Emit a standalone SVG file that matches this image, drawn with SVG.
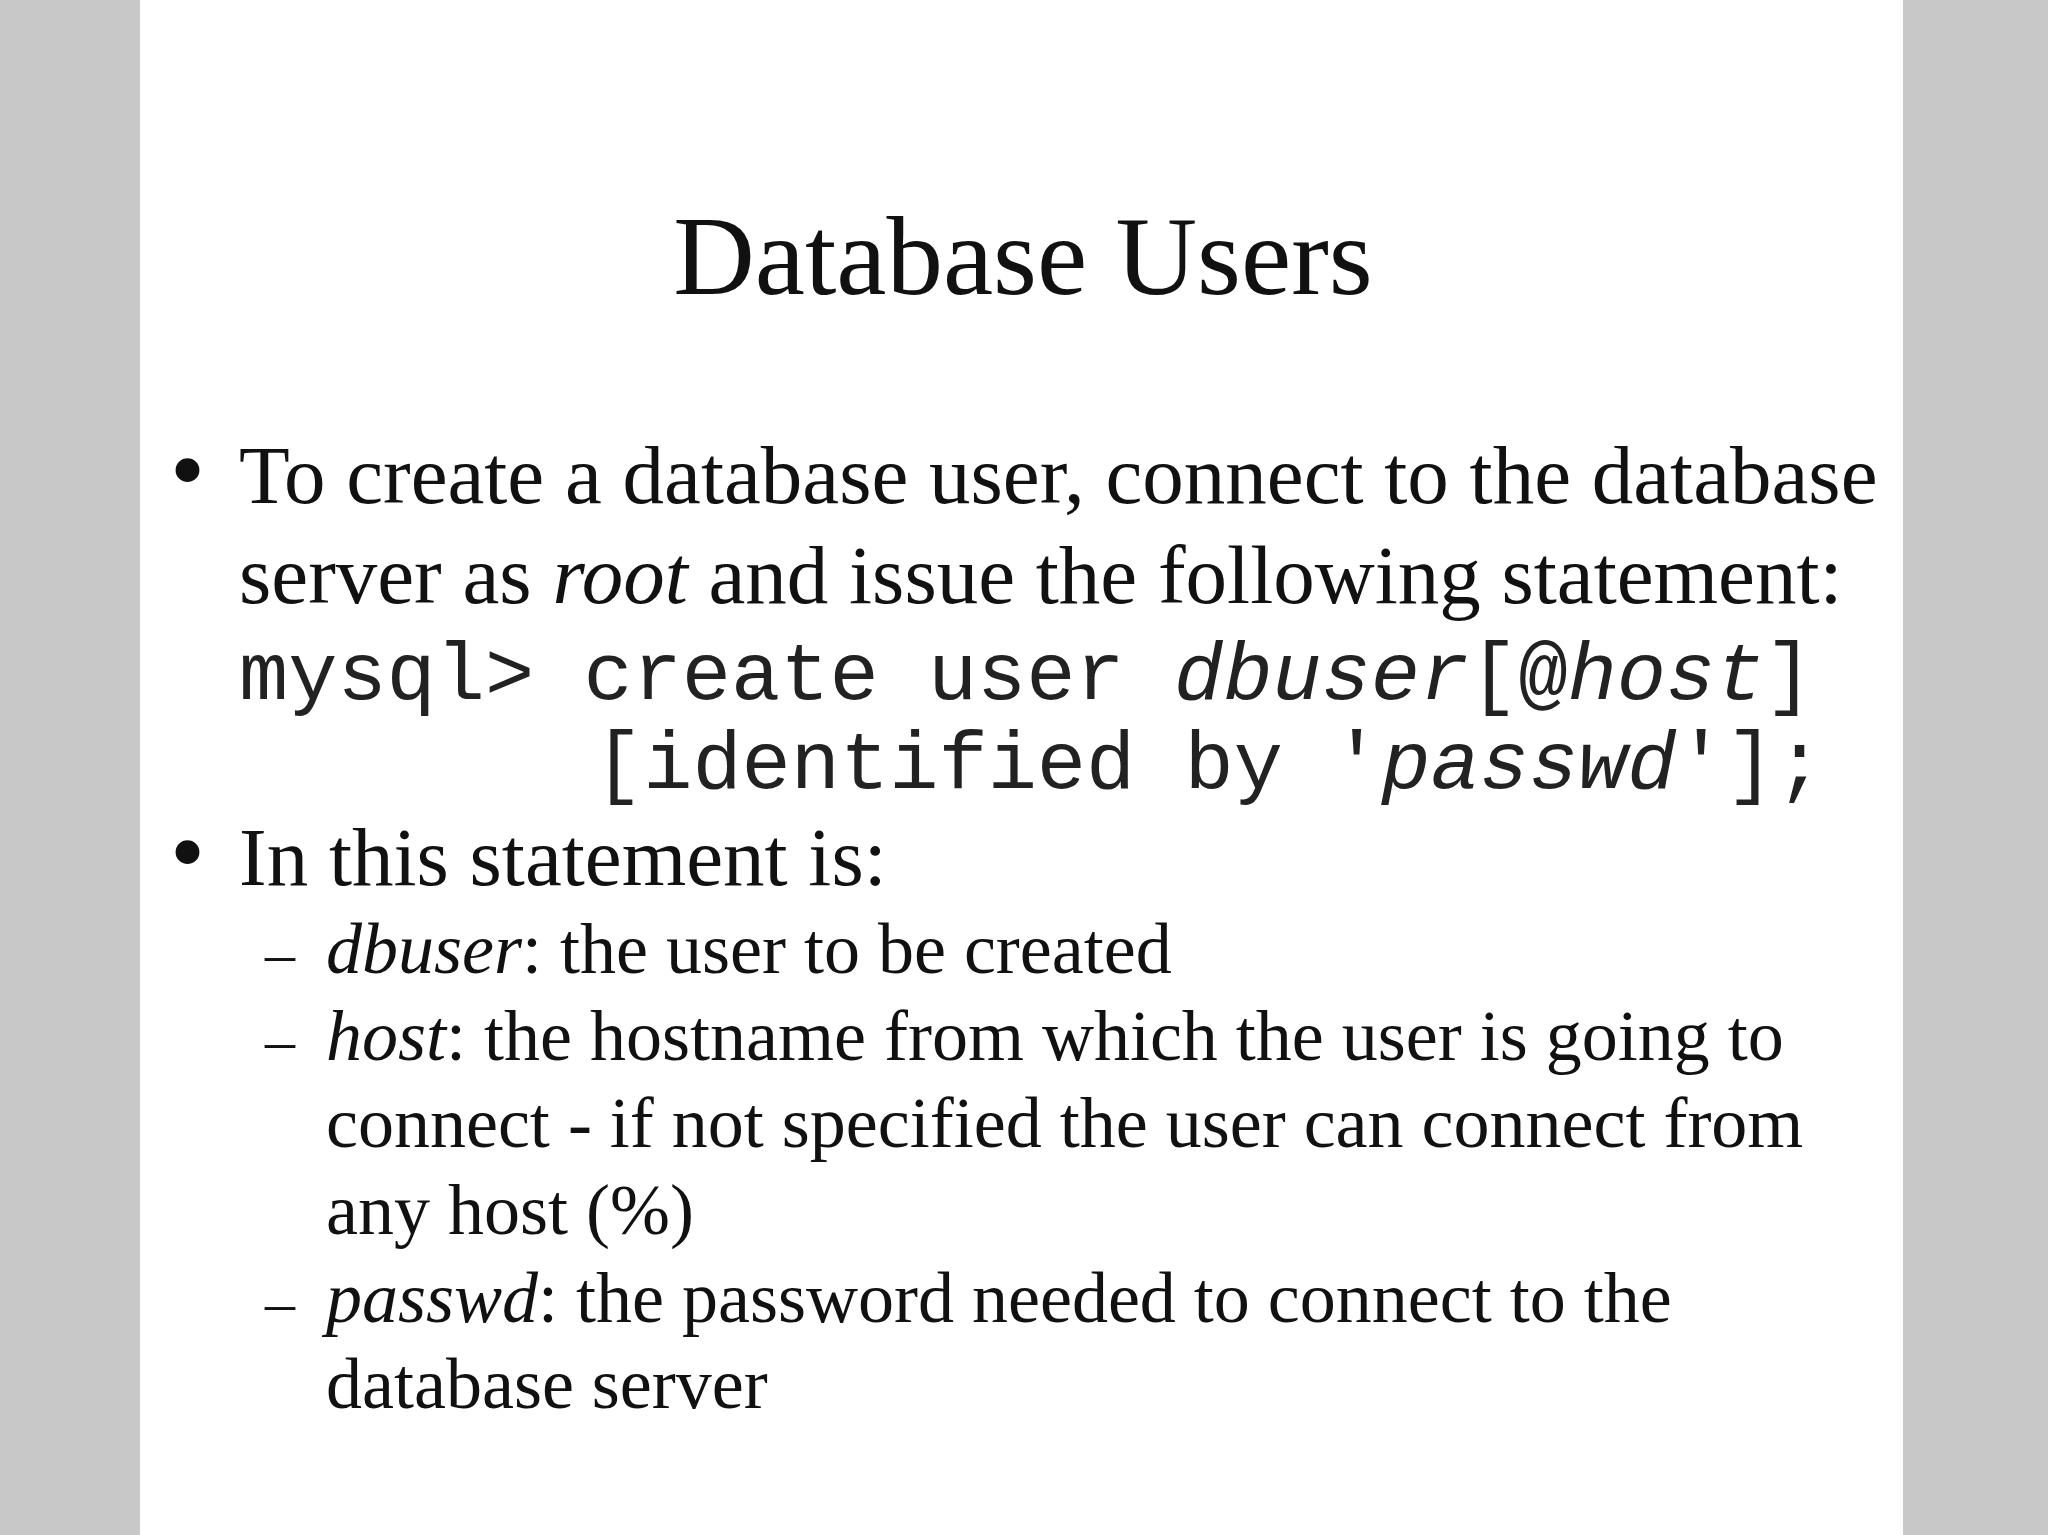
<svg xmlns="http://www.w3.org/2000/svg" width="2048" height="1535" viewBox="0 0 2048 1535">
<style>
.s{font-family:"Liberation Serif",serif;fill:#111}
.m{font-family:"Liberation Mono",monospace;fill:#222;font-size:82px}
.b{font-size:83px}.sub{font-size:72px}.d{font-size:60px}
</style>
<rect width="2048" height="1535" fill="#c8c8c8"/>
<rect x="140" y="0" width="1763" height="1535" fill="#fff"/>
<g id="title"><text class="s" x="1023" y="294" font-size="113" text-anchor="middle">Database Users</text></g>
<g id="body">
<text class="s" x="170" y="503" font-size="100">•</text>
<text class="s b" x="239" y="503">To create a database user, connect to the database</text>
<text class="s b" x="239" y="603">server as <tspan font-style="italic">root</tspan> and issue the following statement:</text>
<text class="m" x="239" y="699">mysql&gt; create user <tspan font-style="italic">dbuser</tspan>[@<tspan font-style="italic">host</tspan>]</text>
<text class="m" x="594" y="788">[identified by '<tspan font-style="italic">passwd</tspan>'];</text>
<text class="s" x="170" y="885" font-size="100">•</text>
<text class="s b" x="239" y="885">In this statement is:</text>
<text class="s d" x="265" y="973">–</text>
<text class="s sub" x="326" y="973"><tspan font-style="italic">dbuser</tspan>: the user to be created</text>
<text class="s d" x="265" y="1060">–</text>
<text class="s sub" x="326" y="1060"><tspan font-style="italic">host</tspan>: the hostname from which the user is going to</text>
<text class="s sub" x="326" y="1147">connect - if not specified the user can connect from</text>
<text class="s sub" x="326" y="1234">any host (%)</text>
<text class="s d" x="265" y="1322">–</text>
<text class="s sub" x="326" y="1322"><tspan font-style="italic">passwd</tspan>: the password needed to connect to the</text>
<text class="s sub" x="326" y="1408">database server</text>
</g>
</svg>
